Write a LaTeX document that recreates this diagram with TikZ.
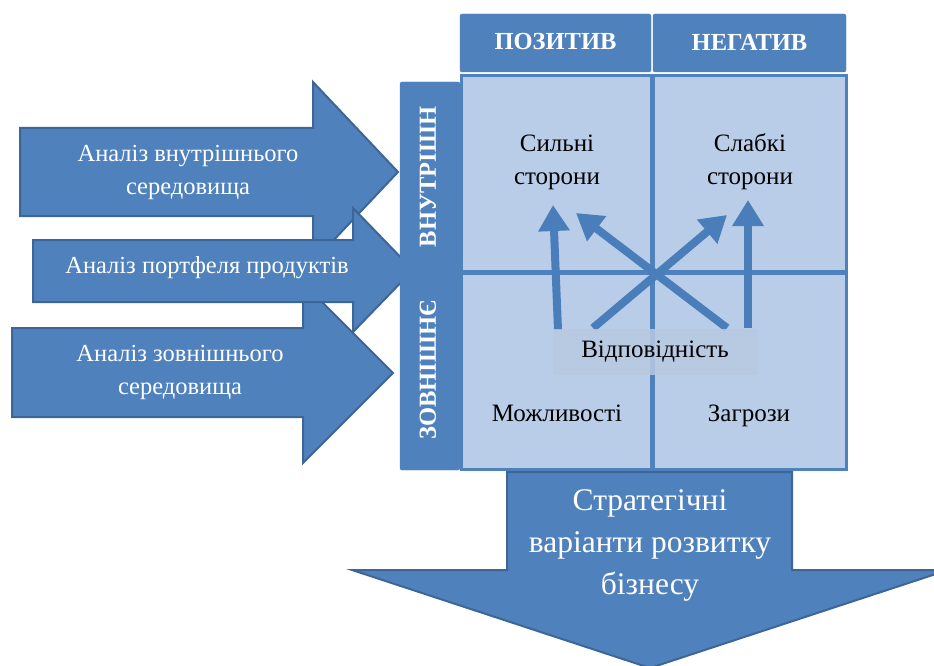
\documentclass[tikz,border=0pt]{standalone}
\usepackage{fontspec}
\setmainfont{Liberation Serif}
\usepackage{tikz}
\usetikzlibrary{arrows.meta}
\definecolor{swotblue}{HTML}{4F81BD}
\definecolor{swotdark}{HTML}{3D6696}
\definecolor{swotcell}{HTML}{B9CDE8}
\definecolor{swotarrow}{HTML}{4A7EBB}
\definecolor{swotmatch}{HTML}{B8C9E1}

\begin{document}
\begin{tikzpicture}[x=1pt,y=-1pt]
    \tikzstyle{block}=[fill=swotblue,draw=swotdark,line width=2pt,line join=miter]
    \tikzstyle{arrow text}=[text=white,font=\fontsize{24.5}{33}\selectfont,align=center]
    \tikzstyle{head}=[text=white,font=\bfseries\fontsize{24.5}{27}\selectfont]
    \tikzstyle{cell text}=[font=\fontsize{25}{33}\selectfont,align=center]
    \tikzstyle{match}=[draw=swotarrow,line width=8pt,-{Triangle[width=30pt,length=26pt]}]

    \useasboundingbox (0,0) rectangle (934,666);

    % Draw the input arrows (start / head base / tip / shaft top / shaft bottom / centre / half head)
    \foreach \xa/\xb/\xc/\ya/\yb/\yc/\h in {20/313/398/128/216/172/90, 12/303/393/328/417/373/90, 33/353/413/240/302/270/62}
        \draw[block] (\xa,\ya) -- (\xb,\ya) -- ({\xb},{\yc-\h}) -- (\xc,\yc)
            -- ({\xb},{\yc+\h}) -- (\xb,\yb) -- (\xa,\yb) -- cycle;

    \node[arrow text] (in-1) at (188,172) {Аналіз внутрішнього\\середовища};
    \node[arrow text] (in-2) at (207,268) {Аналіз портфеля продуктів};
    \node[arrow text] (in-3) at (180,372) {Аналіз зовнішнього\\середовища};

    % Draw the side bar
    \draw[fill=swotblue,draw=swotblue,rounded corners=2pt] (400,82) rectangle (460,470);
    \node[head,rotate=90] (inner) at (428,177) {ВНУТРІШН};
    \node[head,rotate=90] (outer) at (428,370) {ЗОВНІШНЄ};

    % Draw the header cells
    \foreach \name/\xa/\xb/\lab in {pos/460/651/ПОЗИТИВ, neg/653/846/НЕГАТИВ} {
        \draw[fill=swotblue,draw=swotblue,rounded corners=2pt] (\xa,14) rectangle (\xb,72);
        \node[head] (\name) at ({(\xa+\xb)/2},42) {\lab};
    }

    % Draw the matrix
    \draw[fill=swotcell,draw=swotblue,line width=3pt] (461,76) rectangle (846,469);
    \draw[swotblue,line width=5pt] (652,76) -- (652,469);
    \draw[swotblue,line width=5pt] (461,272) -- (846,272);

    \node[cell text] (strong) at (557,162) {Сильні\\сторони};
    \node[cell text] (weak) at (750,162) {Слабкі\\сторони};
    \node[cell text,anchor=base] (opps) at (557,421) {Можливості};
    \node[cell text,anchor=base] (threats) at (749,421) {Загрози};

    % Connect the match box with the quadrants
    \foreach \i/\sx/\sy/\tx/\ty in {1/558/330/553/205, 2/727/328/576/213, 3/593/328/727/215, 4/748/328/748/200} {
        \coordinate (s-\i) at (\sx,\sy);
        \coordinate (t-\i) at (\tx,\ty);
        \draw[match] (s-\i) -- (t-\i);
    }

    \node[cell text,fill=swotmatch,fill opacity=0.85,text opacity=1,
        minimum width=205,minimum height=46] (fit) at (655,352) {Відповідність};

    % Draw the output arrow
    \draw[block] (507,472) -- (792,472) -- (792,570) -- (948,570) -- (650,668)
        -- (352,570) -- (507,570) -- cycle;
    \node[arrow text,font=\fontsize{31.5}{42}\selectfont] (out) at (650,545)
        {Стратегічні\\варіанти розвитку\\бізнесу};
\end{tikzpicture}
\end{document}
